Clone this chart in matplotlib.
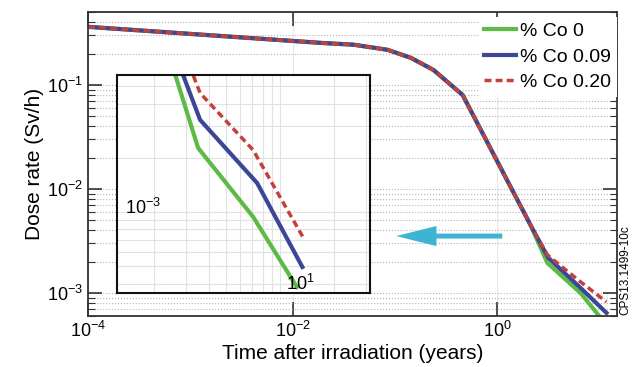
import matplotlib
matplotlib.use('Agg')
import matplotlib.pyplot as plt
import numpy as np

plt.rcParams['font.family'] = ['Liberation Sans', 'DejaVu Sans']
plt.rcParams['mathtext.fontset'] = 'custom'
plt.rcParams['mathtext.rm'] = 'Liberation Sans'
plt.rcParams['mathtext.default'] = 'regular'

# main plot data (years, Sv/h)
t_common = [1e-4, 0.0188, 0.0394, 0.0845, 0.142, 0.237, 0.456, 2.1]
d_common = [0.361, 0.253, 0.243, 0.217, 0.182, 0.139, 0.080, 0.0045]
t_co0 = t_common + [3.07, 6.46, 9.67]
d_co0 = d_common + [0.00194, 0.00100, 0.000614]
t_co009 = t_common + [3.14, 6.46, 11.6]
d_co009 = d_common + [0.00217, 0.00112, 0.000643]
t_co020 = t_common + [3.07, 6.46, 11.6]
d_co020 = d_common + [0.00232, 0.00128, 0.00082]

# inset data
ti_co0 = [2.45, 3.50, 7.08, 12.4]
di_co0 = [7.08e-3, 2.27e-3, 9.4e-4, 3.83e-4]
ti_co009 = [2.62, 3.59, 7.45, 13.3]
di_co009 = [7.44e-3, 3.25e-3, 1.45e-3, 4.95e-4]
ti_co020 = [2.97, 3.59, 7.08, 13.4]
di_co020 = [7.44e-3, 4.58e-3, 2.21e-3, 7.26e-4]

labels = ['% Co 0', '% Co 0.09', '% Co 0.20']
green = '#5dba47'
blue = '#3b4796'
red = '#c2413a'

fig = plt.figure(figsize=(6.4, 3.67), dpi=100)
ax = fig.add_axes([0.1375, 0.139, 0.827, 0.828])

ax.plot(t_co0, d_co0, color=green, lw=3, label=labels[0])
ax.plot(t_co009, d_co009, color=blue, lw=3, label=labels[1])
ax.plot(t_co020, d_co020, color=red, lw=2.5, ls=(0, (2, 1.2)), label=labels[2])

ax.set_xscale('log')
ax.set_yscale('log')
ax.set_xlim(1e-4, 14.8)
ax.set_ylim(6.0e-4, 0.5)
ax.set_xticks([1e-4, 1e-2, 1])
ax.xaxis.set_minor_locator(matplotlib.ticker.NullLocator())
ax.tick_params(which='both', direction='in', top=True, right=True, labelsize=13, color='#333333')
ax.tick_params(which='major', length=10, width=1.2)
ax.tick_params(which='minor', length=5, width=0.8)
ax.grid(axis='y', which='both', ls=':', lw=0.8, color='#b5b5b5')
ax.grid(axis='x', which='major', ls='-', lw=0.6, color='#e0e0e0')
for s in ax.spines.values():
    s.set_color('#333333')
    s.set_linewidth(1.3)

ax.set_xlabel('Time after irradiation (years)', fontsize=15, labelpad=2)
ax.set_ylabel('Dose rate (Sv/h)', fontsize=15, labelpad=2)

leg = ax.legend(loc='upper right', bbox_to_anchor=(1.0, 0.985), borderaxespad=0,
                fontsize=14, handlelength=1.6, handletextpad=0.25, labelspacing=0.4,
                frameon=True, fancybox=False, borderpad=0.3)
leg.get_frame().set_edgecolor('none')
leg.get_frame().set_facecolor('white')
leg.get_frame().set_alpha(1)

# arrow pointing to the inset
ax.annotate('', xy=(0.577, 0.263), xytext=(0.788, 0.263), xycoords='axes fraction',
            arrowprops=dict(arrowstyle='simple,head_length=2.9,head_width=1.45,tail_width=0.36',
                            color='#3db5d2', lw=0))

# inset
axi = fig.add_axes([0.183, 0.2016, 0.395, 0.594])
axi.plot(ti_co0, di_co0, color=green, lw=3)
axi.plot(ti_co009, di_co009, color=blue, lw=3)
axi.plot(ti_co020, di_co020, color=red, lw=2.5, ls=(0, (2, 1.2)))
axi.set_xscale('log')
axi.set_yscale('log')
axi.set_xlim(1.24, 31.6)
axi.set_ylim(3.55e-4, 5.77e-3)
axi.grid(which='both', ls='-', lw=0.8, color='#e2e2e2')
axi.tick_params(which='both', length=0, labelbottom=False, labelleft=False)
for s in axi.spines.values():
    s.set_color('#111111')
    s.set_linewidth(1.5)
axi.text(0.03, 0.39, '$10^{-3}$', transform=axi.transAxes, fontsize=13, va='center', ha='left')
axi.text(0.67, 0.04, '$10^{1}$', transform=axi.transAxes, fontsize=13, va='center', ha='left')

fig.text(0.977, 0.265, 'CPS13.1499-10c', rotation=90, fontsize=8.5, ha='center', va='center')

fig.savefig('out.png', dpi=100)
